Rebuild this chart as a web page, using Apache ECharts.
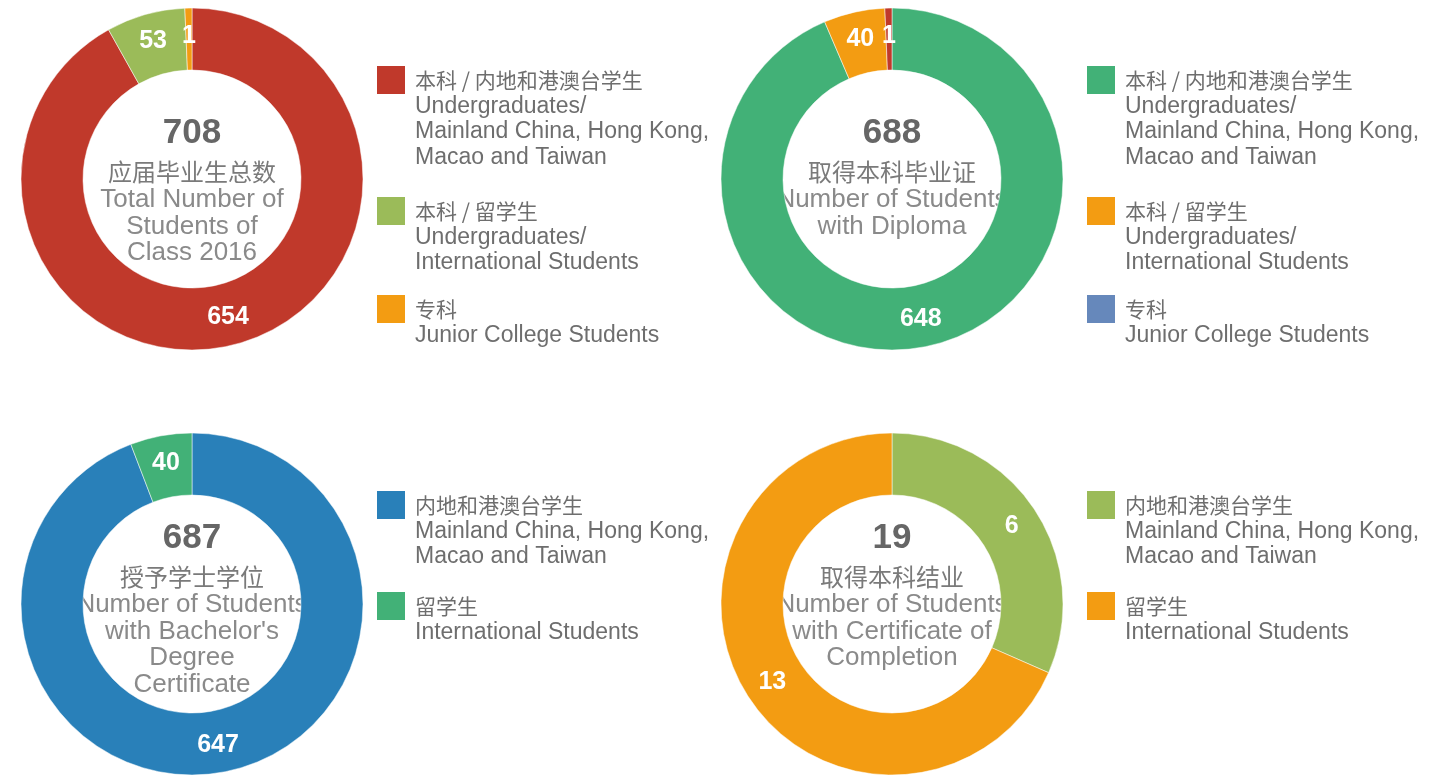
<!DOCTYPE html>
<html>
<head>
<meta charset="utf-8">
<title>Class 2016</title>
<script src="https://cdn.jsdelivr.net/npm/echarts@6/dist/echarts.min.js"></script>
<style>
  html, body { margin: 0; padding: 0; background: #fff; }
  #chart { width: 1445px; height: 778px; }
</style>
</head>
<body>
<div id="chart"></div>
<script>
// 数据
const totals = [708, 688, 687, 19];
const centerCn = ['应届毕业生总数', '取得本科毕业证', '授予学士学位', '取得本科结业'];
const centerEn = [
  ['Total Number of', 'Students of', 'Class 2016'],
  ['Number of Students', 'with Diploma'],
  ['Number of Students', "with Bachelor's", 'Degree', 'Certificate'],
  ['Number of Students', 'with Certificate of', 'Completion']
];
const values1 = [654, 53, 1];
const values2 = [648, 40, 1];
const values3 = [647, 40];
const values4 = [6, 13];
const legendCnA = ['本科 / 内地和港澳台学生', '本科 / 留学生', '专科'];
const legendEnA = [
  ['Undergraduates/', 'Mainland China, Hong Kong,', 'Macao and Taiwan'],
  ['Undergraduates/', 'International Students'],
  ['Junior College Students']
];
const legendCnB = ['内地和港澳台学生', '留学生'];
const legendEnB = [
  ['Mainland China, Hong Kong,', 'Macao and Taiwan'],
  ['International Students']
];

// 颜色
const RED = '#c0392b', LIME = '#9bbb59', ORANGE = '#f39c12',
      GREEN = '#42b177', BLUE = '#2980b9', SLATE = '#6688bb';
const sliceColors = [[RED, LIME, ORANGE], [GREEN, ORANGE, RED], [BLUE, GREEN], [LIME, ORANGE]];
const legendColors = [[RED, LIME, ORANGE], [GREEN, ORANGE, SLATE], [BLUE, GREEN], [LIME, ORANGE]];

// 布局
const centers = [[192, 179], [892, 179], [192, 604], [892, 604]];
const numberY = [133, 133, 538, 538];
const legendX = [377, 1087, 377, 1087];
const legendTops = [[66, 197, 295], [66, 197, 295], [491, 592], [491, 592]];

const allValues = [values1, values2, values3, values4];
const legendCn = [legendCnA, legendCnA, legendCnB, legendCnB];
const legendEn = [legendEnA, legendEnA, legendEnB, legendEnB];

const FONT = '"Liberation Sans", Arial, "Noto Sans CJK SC", sans-serif';
const CJK = '"Noto Sans CJK SC", "Liberation Sans", sans-serif';

const series = allValues.map((vals, i) => ({
  type: 'pie',
  center: centers[i],
  radius: [109, 171],
  startAngle: 90,
  clockwise: true,
  minAngle: 2.4,
  silent: true,
  animation: false,
  avoidLabelOverlap: false,
  itemStyle: { borderColor: '#fff', borderWidth: 0.5 },
  label: {
    show: true,
    position: 'inside',
    color: '#fff',
    fontSize: 25,
    fontWeight: 'bold',
    fontFamily: FONT,
    formatter: '{c}'
  },
  labelLine: { show: false },
  data: vals.map((v, k) => ({ value: v, name: legendCn[i][k], itemStyle: { color: sliceColors[i][k] } }))
}));

const graphic = [];
centers.forEach((c, i) => {
  // 中心文字
  graphic.push({
    type: 'text',
    style: { x: c[0], y: numberY[i], text: String(totals[i]), font: 'bold 35px ' + FONT,
      fill: '#666', textAlign: 'center', textVerticalAlign: 'middle' }
  });
  graphic.push({
    type: 'text',
    style: { x: c[0], y: numberY[i] + 39, text: centerCn[i], font: '24px ' + CJK,
      fill: '#7a7a7a', textAlign: 'center', textVerticalAlign: 'middle' }
  });
  centerEn[i].forEach((line, j) => {
    graphic.push({
      type: 'text',
      style: { x: c[0], y: numberY[i] + 67 + j * 26.6, text: line, font: '26px ' + FONT,
        fill: '#8a8a8a', textAlign: 'center', textVerticalAlign: 'middle' }
    });
  });
  // 图例
  legendCn[i].forEach((name, k) => {
    const top = legendTops[i][k];
    graphic.push({
      type: 'rect',
      shape: { x: legendX[i], y: top, width: 28, height: 28 },
      style: { fill: legendColors[i][k] }
    });
    graphic.push({
      type: 'text',
      style: { x: legendX[i] + 38, y: top + 14, text: name, font: '21px ' + CJK,
        fill: '#6e6e6e', textAlign: 'left', textVerticalAlign: 'middle' }
    });
    legendEn[i][k].forEach((line, j) => {
      graphic.push({
        type: 'text',
        style: { x: legendX[i] + 38, y: top + 40.5 + j * 25.5, text: line, font: '23px ' + FONT,
          fill: '#6e6e6e', textAlign: 'left', textVerticalAlign: 'middle' }
      });
    });
  });
});

const chart = echarts.init(document.getElementById('chart'), null, { renderer: 'canvas' });
chart.setOption({
  backgroundColor: '#fff',
  animation: false,
  series: series,
  graphic: graphic
});
window.addEventListener('resize', () => chart.resize());
</script>
</body>
</html>
